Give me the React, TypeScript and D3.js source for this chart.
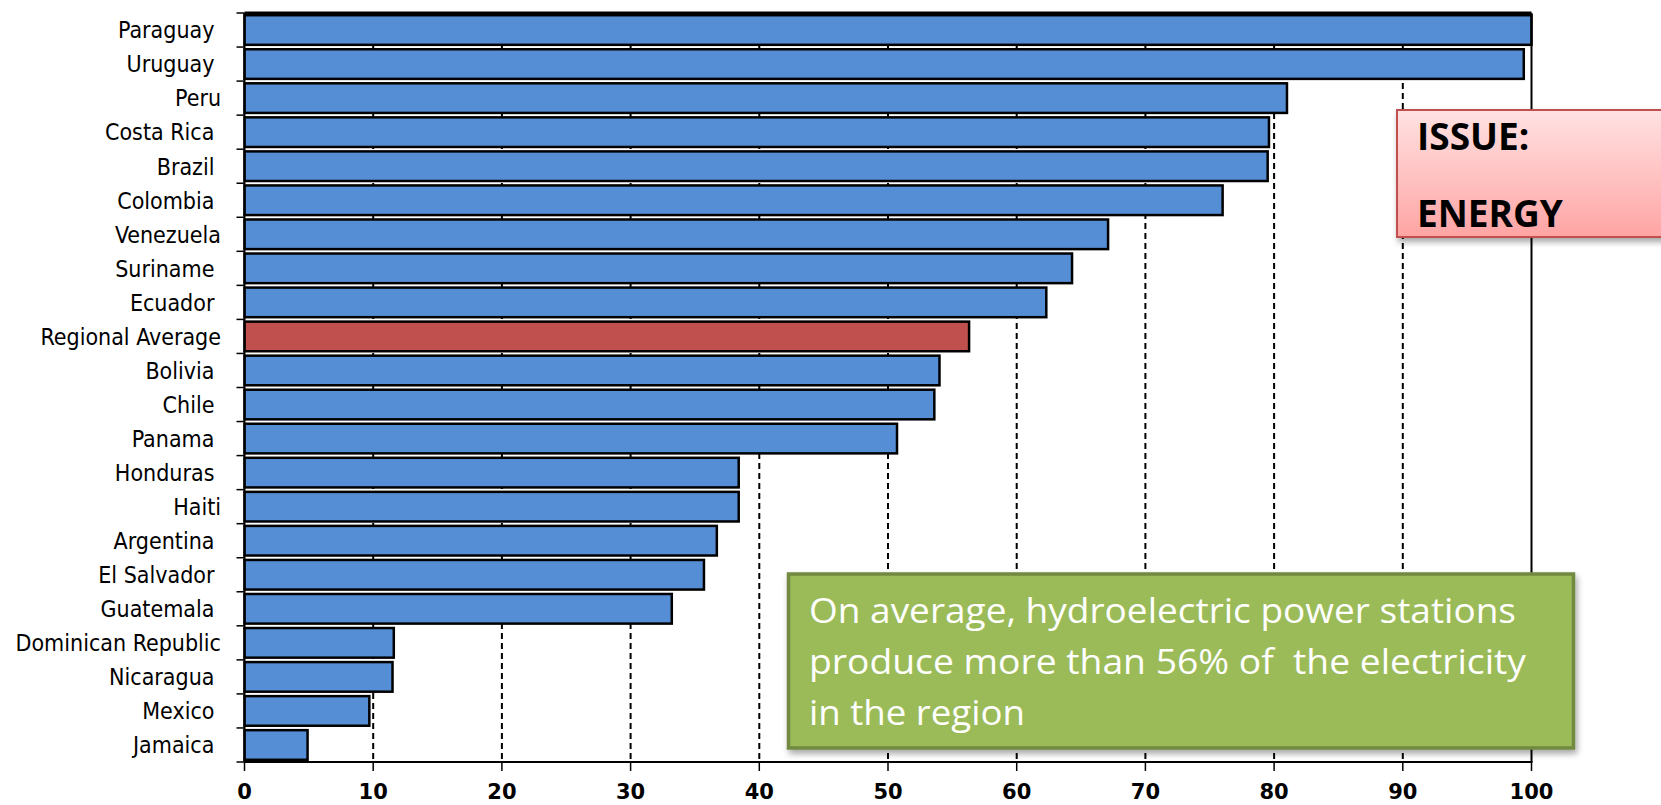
import React from "react";
import * as d3 from "d3";

const categories = [
  "Paraguay ", "Uruguay ", "Peru", "Costa Rica ", "Brazil ", "Colombia ", "Venezuela",
  "Suriname ", "Ecuador ", "Regional Average", "Bolivia ", "Chile ", "Panama ", "Honduras ",
  "Haiti", "Argentina ", "El Salvador ", "Guatemala ", "Dominican Republic", "Nicaragua ",
  "Mexico ", "Jamaica ",
];
const values = [
  100, 99.4, 81.0, 79.6, 79.5, 76.0, 67.1, 64.3, 62.3, 56.3, 54.0, 53.6, 50.7, 38.4, 38.4,
  36.7, 35.7, 33.2, 11.6, 11.5, 9.7, 4.9,
];
const highlight = "Regional Average";
const xTicks = [0, 10, 20, 30, 40, 50, 60, 70, 80, 90, 100];
const issueLines = ["ISSUE:", "ENERGY"];
const noteLines = [
  "On average, hydroelectric power stations",
  "produce more than 56% of  the electricity",
  "in the region",
];

const W = 1661;
const H = 805;
const left = 244.5;
const right = 1531.5;
const top = 13;
const bottom = 762;

export default function App() {
  const x = d3.scaleLinear().domain([0, 100]).range([left, right]);
  const y = d3
    .scaleBand<string>()
    .domain(categories)
    .range([top, bottom])
    .paddingInner(0.13)
    .paddingOuter(0.065);
  const boundaries = d3.range(categories.length + 1).map((i) => top + i * ((bottom - top) / categories.length));
  const noteLen = [707, 717, 216];

  return (
    <svg width={W} height={H} style={{ position: "absolute", left: 0, top: 0, background: "#fff" }}>
      <defs>
        <linearGradient id="issueGrad" x1="0" y1="0" x2="0" y2="1">
          <stop offset="0%" stopColor="#ffe2e2" />
          <stop offset="100%" stopColor="#ffa4a4" />
        </linearGradient>
        <filter id="shadow" x="-10%" y="-10%" width="130%" height="140%">
          <feDropShadow dx="2" dy="4" stdDeviation="3" floodColor="#000" floodOpacity="0.35" />
        </filter>
      </defs>

      {xTicks.filter((t) => t > 0 && t < 100).map((t) => (
        <line key={"g" + t} x1={x(t)} x2={x(t)} y1={top} y2={bottom} stroke="#000" strokeWidth={2} strokeDasharray="6,4" />
      ))}

      {categories.map((c, i) => (
        <rect
          key={c}
          x={x(0)}
          y={y(c)!}
          width={x(values[i]) - x(0)}
          height={y.bandwidth()}
          fill={c === highlight ? "#c0504d" : "#558ed5"}
          stroke="#000"
          strokeWidth={2.5}
        />
      ))}

      <line x1={left} x2={right} y1={top} y2={top} stroke="#000" strokeWidth={3} />
      <line x1={right} x2={right} y1={top} y2={bottom} stroke="#000" strokeWidth={2} />
      <line x1={left} x2={right + 1} y1={bottom} y2={bottom} stroke="#000" strokeWidth={2} />
      <line x1={left} x2={left} y1={top} y2={bottom} stroke="#000" strokeWidth={2} />

      {boundaries.map((b, i) => (
        <line key={"yt" + i} x1={left - 8} x2={left} y1={b} y2={b} stroke="#000" strokeWidth={1.5} />
      ))}
      {xTicks.map((t) => (
        <line key={"xt" + t} x1={x(t)} x2={x(t)} y1={bottom} y2={bottom + 9} stroke="#000" strokeWidth={1.5} />
      ))}

      {categories.map((c) => (
        <text
          key={"l" + c}
          x={221}
          y={y(c)! + y.bandwidth() / 2 + 8.3}
          textAnchor="end"
          fontFamily="'DejaVu Sans Condensed', 'DejaVu Sans', sans-serif"
          fontStretch="condensed"
          fontSize={23}
          fill="#000"
          style={{ whiteSpace: "pre" }}
        >
          {c}
        </text>
      ))}

      {xTicks.map((t) => (
        <text
          key={"xl" + t}
          x={x(t)}
          y={799}
          textAnchor="middle"
          fontFamily="'DejaVu Sans', sans-serif"
          fontWeight="bold"
          fontSize={21}
          fill="#000"
        >
          {t}
        </text>
      ))}

      <g filter="url(#shadow)">
        <rect x={1397} y={110} width={300} height={127} fill="url(#issueGrad)" stroke="#c0504d" strokeWidth={2} />
      </g>
      {issueLines.map((s, i) => (
        <text
          key={"is" + i}
          x={1417}
          y={150 + i * 76.7}
          fontFamily="'Open Sans', sans-serif"
          fontWeight="bold"
          fontSize={37}
          fill="#000"
        >
          {s}
        </text>
      ))}

      <g filter="url(#shadow)">
        <rect x={788.5} y={574} width={785} height={174} fill="#9bbb59" stroke="#71893f" strokeWidth={3.5} />
      </g>
      {noteLines.map((s, i) => (
        <text
          key={"n" + i}
          x={809}
          y={623 + i * 51}
          fontFamily="'Open Sans', sans-serif"
          fontSize={35}
          fill="#fff"
          textLength={noteLen[i]}
          lengthAdjust="spacingAndGlyphs"
          style={{ whiteSpace: "pre" }}
        >
          {s}
        </text>
      ))}
    </svg>
  );
}
